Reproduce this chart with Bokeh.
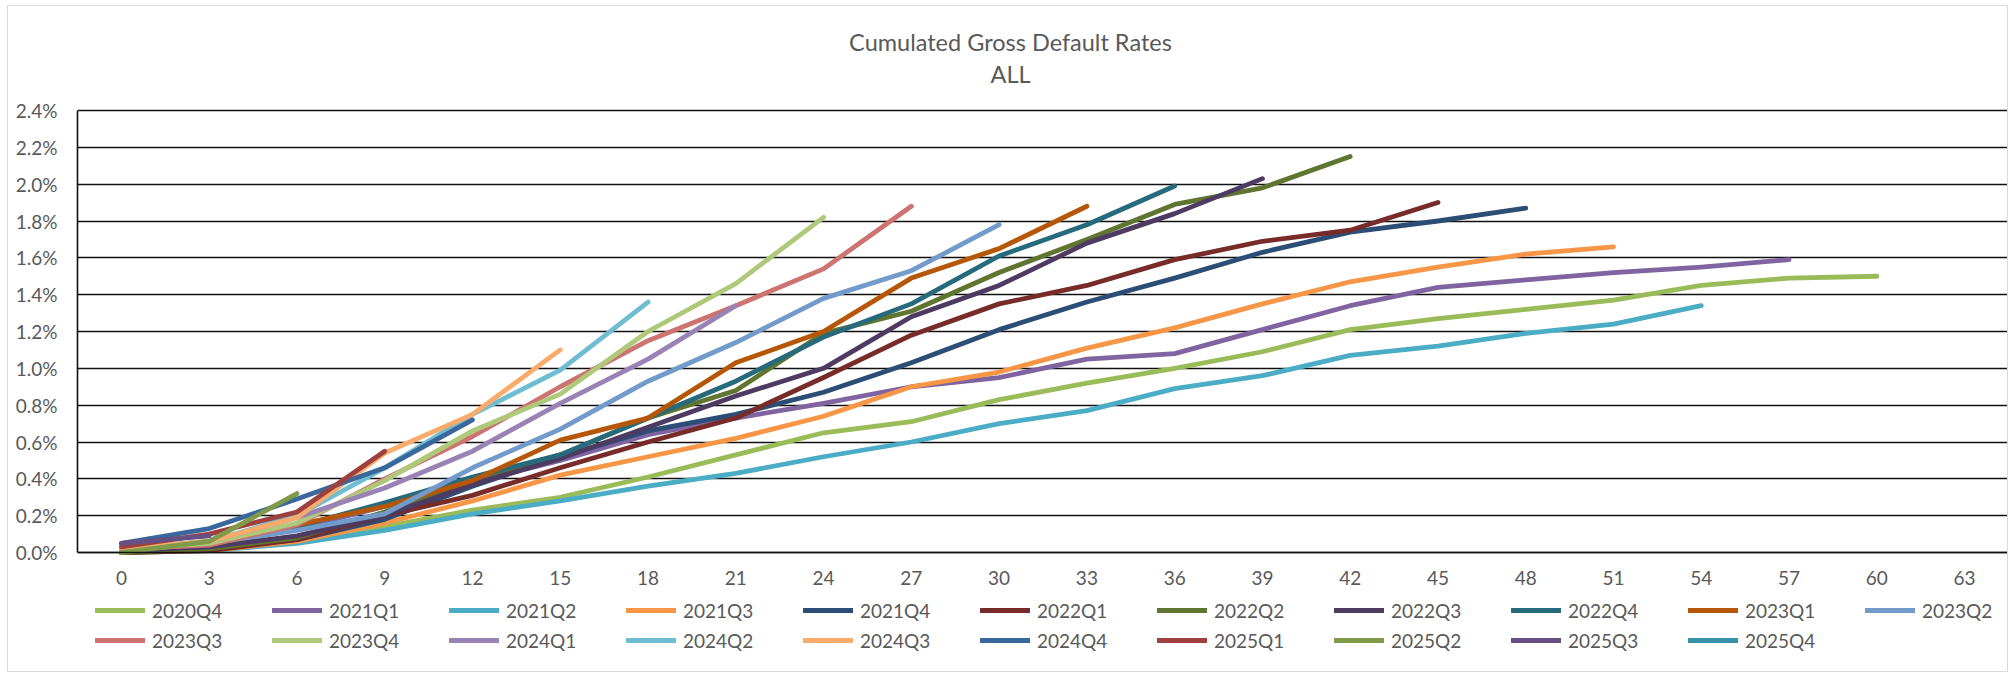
from bokeh.plotting import figure
from bokeh.models import (Legend, LegendItem, PrintfTickFormatter, FixedTicker,
                          Label, Range1d)
from bokeh.embed import file_html
from bokeh.resources import INLINE

# ---------------- data ----------------
months = [str(m) for m in range(0, 64, 3)]          # category axis 0..63
y_ticks = [0.0, 0.2, 0.4, 0.6, 0.8, 1.0, 1.2, 1.4, 1.6, 1.8, 2.0, 2.2, 2.4]
title_lines = ["Cumulated Gross Default Rates", "ALL"]

series_names = ["2020Q4", "2021Q1", "2021Q2", "2021Q3", "2021Q4", "2022Q1", "2022Q2",
                "2022Q3", "2022Q4", "2023Q1", "2023Q2", "2023Q3", "2023Q4", "2024Q1",
                "2024Q2", "2024Q3", "2024Q4", "2025Q1", "2025Q2", "2025Q3", "2025Q4"]

series_colors = ["#9BBB59", "#8064A2", "#4BACC6", "#F79646", "#2C4D75", "#772C2A", "#5F7530",
                 "#4D3B62", "#276A7C", "#B65708", "#729ACA", "#CD7371", "#AFC97A", "#9983B5",
                 "#6FBDD1", "#F9AB6B", "#3A679C", "#9E413E", "#7F9A48", "#664F83", "#3891A7"]

# cumulated gross default rates in % (one value per 3-month step)
v2020Q4 = [0.00, 0.02, 0.06, 0.14, 0.23, 0.30, 0.41, 0.53, 0.65, 0.71, 0.83, 0.92, 1.00, 1.09,
           1.21, 1.27, 1.32, 1.37, 1.45, 1.49, 1.50]
v2021Q1 = [0.00, 0.03, 0.13, 0.25, 0.38, 0.50, 0.64, 0.73, 0.81, 0.90, 0.95, 1.05, 1.08, 1.21,
           1.34, 1.44, 1.48, 1.52, 1.55, 1.59]
v2021Q2 = [0.00, 0.01, 0.05, 0.12, 0.21, 0.28, 0.36, 0.43, 0.52, 0.60, 0.70, 0.77, 0.89, 0.96,
           1.07, 1.12, 1.19, 1.24, 1.34]
v2021Q3 = [0.00, 0.01, 0.06, 0.16, 0.28, 0.42, 0.52, 0.62, 0.74, 0.90, 0.98, 1.11, 1.22, 1.35,
           1.47, 1.55, 1.62, 1.66]
v2021Q4 = [0.00, 0.02, 0.07, 0.18, 0.36, 0.52, 0.66, 0.75, 0.87, 1.03, 1.21, 1.36, 1.49, 1.63,
           1.74, 1.80, 1.87]
v2022Q1 = [0.00, 0.01, 0.07, 0.20, 0.31, 0.46, 0.60, 0.73, 0.95, 1.18, 1.35, 1.45, 1.59, 1.69,
           1.75, 1.90]
v2022Q2 = [0.00, 0.02, 0.08, 0.22, 0.40, 0.53, 0.73, 0.88, 1.19, 1.31, 1.52, 1.70, 1.89, 1.98,
           2.15]
v2022Q3 = [0.01, 0.03, 0.09, 0.20, 0.37, 0.51, 0.68, 0.85, 1.00, 1.28, 1.45, 1.68, 1.84, 2.03]
v2022Q4 = [0.01, 0.05, 0.14, 0.27, 0.41, 0.53, 0.73, 0.93, 1.17, 1.35, 1.61, 1.78, 1.99]
v2023Q1 = [0.01, 0.05, 0.15, 0.25, 0.39, 0.61, 0.73, 1.03, 1.20, 1.49, 1.65, 1.88]
v2023Q2 = [0.01, 0.05, 0.12, 0.21, 0.46, 0.67, 0.93, 1.14, 1.38, 1.53, 1.78]
v2023Q3 = [0.02, 0.04, 0.15, 0.40, 0.63, 0.90, 1.15, 1.34, 1.54, 1.88]
v2023Q4 = [0.02, 0.05, 0.16, 0.39, 0.66, 0.86, 1.20, 1.46, 1.82]
v2024Q1 = [0.02, 0.06, 0.19, 0.35, 0.55, 0.81, 1.05, 1.34]
v2024Q2 = [0.02, 0.06, 0.20, 0.46, 0.75, 0.99, 1.36]
v2024Q3 = [0.02, 0.06, 0.19, 0.54, 0.75, 1.10]
v2024Q4 = [0.05, 0.13, 0.29, 0.46, 0.72]
v2025Q1 = [0.03, 0.10, 0.22, 0.55]
v2025Q2 = [0.00, 0.06, 0.32]
v2025Q3 = [0.05, 0.09]
v2025Q4 = [0.05]

series_values = [v2020Q4, v2021Q1, v2021Q2, v2021Q3, v2021Q4, v2022Q1, v2022Q2, v2022Q3,
                 v2022Q4, v2023Q1, v2023Q2, v2023Q3, v2023Q4, v2024Q1, v2024Q2, v2024Q3,
                 v2024Q4, v2025Q1, v2025Q2, v2025Q3, v2025Q4]

# ---------------- layout constants (pixels) ----------------
FONT = "Lato"
TXT = "#595959"
W, H = 2001, 667
LEFT, RIGHT = 69, 1
TOP = 104                 # space above the 2.4% gridline (titles live here)
PLOT_H = 442              # 0.0% .. 2.4%
below_px = H - TOP - PLOT_H
unit = 2.4 / PLOT_H       # data units per pixel
y_lo = -below_px * unit
y_hi = 2.4 + TOP * unit
cat_px = (W - LEFT - RIGHT) / len(months)

p = figure(width=W, height=H, x_range=months, y_range=Range1d(y_lo, y_hi),
           output_backend="svg", toolbar_location=None,
           min_border_left=LEFT, min_border_right=RIGHT, min_border_top=0, min_border_bottom=0,
           background_fill_color="white", border_fill_color="white",
           outline_line_color=None,
           styles={"margin-left": "7px", "margin-top": "5px",
                   "border": "1px solid #D9D9D9"})

# titles, centred on the chart area (pixel positions measured from the frame top)
title_cx = (1002 - LEFT) / cat_px
for txt, from_top in zip(title_lines, (35, 67)):
    p.add_layout(Label(x=title_cx, y=y_hi - from_top * unit, text=txt,
                       text_align="center", text_baseline="middle",
                       text_font=FONT, text_font_size="23.5px", text_color=TXT))

items = []
for name, col, vals in zip(series_names, series_colors, series_values):
    r = p.line(x=months[:len(vals)], y=vals, line_color=col, line_width=4.8,
               line_cap="round", line_join="round")
    items.append(LegendItem(label=name, renderers=[r]))

# axes
p.yaxis.ticker = FixedTicker(ticks=y_ticks)
p.yaxis.formatter = PrintfTickFormatter(format="%.1f%%")
p.yaxis.bounds = (0, 2.4)
p.xaxis.fixed_location = 0
for ax in (p.xaxis[0], p.yaxis[0]):
    ax.major_tick_in = 0
    ax.major_tick_out = 0
    ax.minor_tick_in = 0
    ax.minor_tick_out = 0
    ax.axis_line_color = "#111111"
    ax.axis_line_width = 1.6
    ax.major_label_text_font = FONT
    ax.major_label_text_font_size = "19px"
    ax.major_label_text_color = TXT
p.xaxis.major_label_standoff = 18
p.yaxis.major_label_standoff = 20

p.xgrid.grid_line_color = None
p.ygrid.ticker = FixedTicker(ticks=y_ticks)
p.ygrid.grid_line_color = "#111111"
p.ygrid.grid_line_width = 1.6


def make_legend(its, y):
    return Legend(items=its, orientation="horizontal",
                  glyph_width=50, glyph_height=24, label_height=24, label_width=114,
                  label_standoff=7, spacing=6, padding=0, margin=0,
                  border_line_color=None, background_fill_alpha=0,
                  label_text_font=FONT, label_text_font_size="19px", label_text_color=TXT,
                  location=(18, y))


p.add_layout(make_legend(items[:11], 51), "center")
p.add_layout(make_legend(items[11:], 21), "center")

open("out.html", "w").write(file_html(p, INLINE))
